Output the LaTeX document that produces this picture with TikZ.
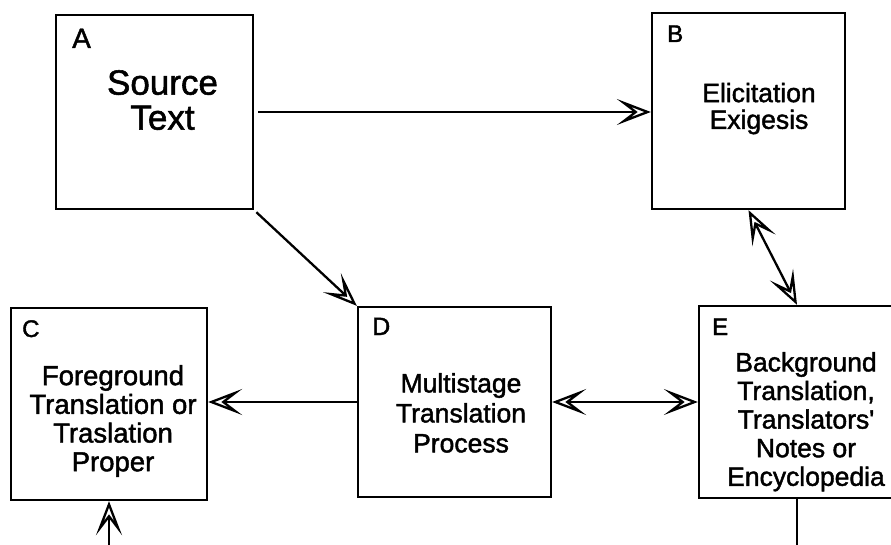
\documentclass[tikz,border=0pt]{standalone}
\usepackage{fontspec}
\setmainfont{Liberation Sans}
\newfontfamily\heavysans[FakeBold=1.6]{Liberation Sans}
\usetikzlibrary{arrows.meta}

\tikzset{
  box/.style={draw, rectangle, line width=2.3pt, inner sep=0pt},
  boxlabel/.style={anchor=base west, inner sep=0pt, font=\heavysans\fontsize{24}{24}\selectfont},
  boxtext/.style={anchor=north, inner sep=0pt, align=center,
                  font=\heavysans\fontsize{26.5}{28.6}\selectfont},
  link/.style={line width=2.3pt},
  >={Stealth[open, length=34pt, width=26pt, inset=17pt]}
}

\begin{document}
\begin{tikzpicture}[x=1pt, y=-1pt]
  \useasboundingbox (0,0) rectangle (891,545);
  \clip (0,0) rectangle (891,545);

  % the five boxes
  \node[box, minimum width=197pt, minimum height=194pt] (A) at (154.5,112) {};
  \node[box, minimum width=193pt, minimum height=196pt] (B) at (748.5,111) {};
  \node[box, minimum width=196pt, minimum height=192pt] (C) at (109,404) {};
  \node[box, minimum width=193pt, minimum height=190pt] (D) at (454.5,402) {};
  \node[box, minimum width=196pt, minimum height=192pt] (E) at (797,402) {};

  % corner letters
  \node[boxlabel, font=\heavysans\fontsize{28}{28}\selectfont] (la) at (72,48) {A};
  \node[boxlabel] (lb) at (667,42) {B};
  \node[boxlabel] (lc) at (22,337) {C};
  \node[boxlabel, font=\heavysans\fontsize{25}{25}\selectfont] (ld) at (372,335) {D};
  \node[boxlabel] (le) at (712,335) {E};

  % box contents
  \node[boxtext, font=\heavysans\fontsize{35}{35}\selectfont] (ta) at (162.5,70) {Source\\Text};
  \node[boxtext, font=\heavysans\fontsize{26.5}{26.7}\selectfont] (tb) at (759,82.7) {Elicitation\\Exigesis};
  \node[boxtext, font=\heavysans\fontsize{27.5}{28.7}\selectfont] (tc) at (113,365) {Foreground\\Translation or\\Traslation\\Proper};
  \node[boxtext, font=\heavysans\fontsize{26.5}{30}\selectfont] (td) at (461,373) {Multistage\\Translation\\Process};
  \node[boxtext] (te) at (806,352) {Background\\Translation,\\Translators'\\Notes or\\Encyclopedia};

  % free ends of the lines leaving the picture
  \coordinate (cin) at (109,548);
  \coordinate (eout) at (797,548);

  % connectors
  \draw[link, ->, shorten <=4pt] (A.east) -- (A.east -| B.west);
  \draw[link, ->, shorten <=3pt] (A.south east) -- (D.north west);
  \draw[link, <->] (B.south) -- (E.north);
  \draw[link, ->] (D.west) -- (D.west -| C.east);
  \draw[link, <->] (D.east) -- (E.west);
  \draw[link, ->] (cin) -- (C.south);
  \draw[link] (E.south) -- (eout);
\end{tikzpicture}
\end{document}
